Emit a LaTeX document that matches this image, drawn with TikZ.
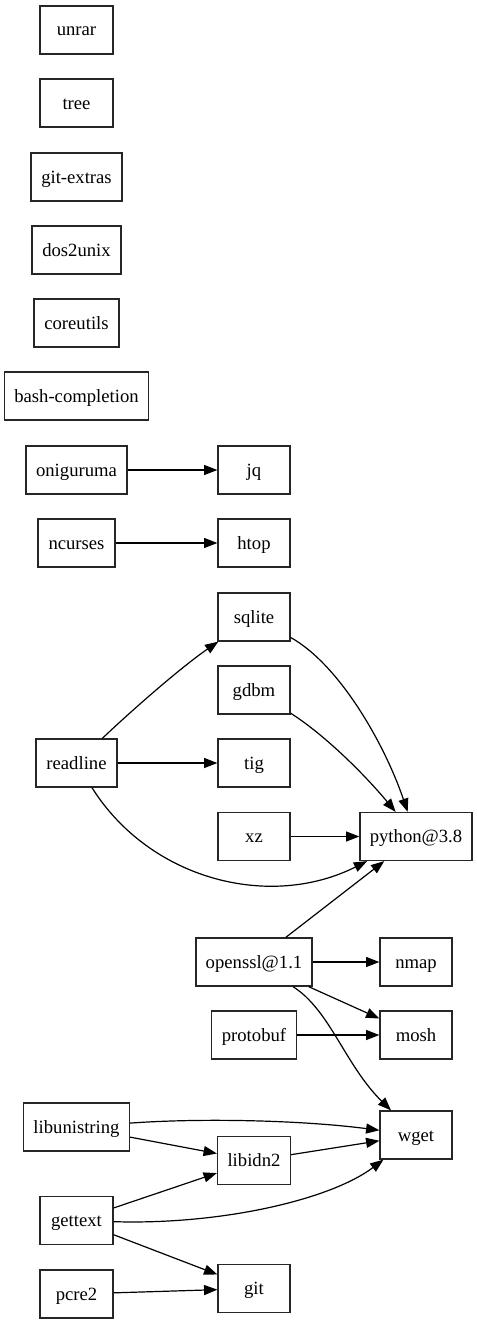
\documentclass[tikz,border=0pt]{standalone}
\usepackage{fontspec}
\setmainfont{Liberation Serif}
\usetikzlibrary{arrows.meta}
\begin{document}
\begin{tikzpicture}[x=0.75pt,y=-0.75pt,
  pkg/.style={draw=black!85,line width=0.9pt,rectangle,minimum height=36pt,inner sep=0pt,text height=12pt,text depth=3pt,font=\fontsize{14}{16}\selectfont},
  dep/.style={draw=black,line width=0.9pt,-{Triangle[length=10pt,width=7.5pt]}}]
\useasboundingbox (0,0) rectangle (477,1324);
\node[pkg,minimum width=54.75pt] (unrar) at (76.5,30) {unrar};
\node[pkg,minimum width=54.75pt] (tree) at (76.5,103) {tree};
\node[pkg,minimum width=68.25pt] (gitextras) at (76.5,177) {git-extras};
\node[pkg,minimum width=66.75pt] (dos2unix) at (76.5,250) {dos2unix};
\node[pkg,minimum width=63.75pt] (coreutils) at (76.5,323) {coreutils};
\node[pkg,minimum width=108pt] (bashcomp) at (76.5,396) {bash-completion};
\node[pkg,minimum width=75.75pt] (oniguruma) at (76.5,470) {oniguruma};
\node[pkg,minimum width=54pt] (jq) at (254,470) {jq};
\node[pkg,minimum width=57.75pt] (ncurses) at (76.5,543) {ncurses};
\node[pkg,minimum width=54pt] (htop) at (254,543) {htop};
\node[pkg,minimum width=54pt] (sqlite) at (254,617) {sqlite};
\node[pkg,minimum width=54pt] (gdbm) at (254,690) {gdbm};
\node[pkg,minimum width=60.75pt] (readline) at (76.5,763) {readline};
\node[pkg,minimum width=54pt] (tig) at (254,763) {tig};
\node[pkg,minimum width=54pt] (xz) at (254,836.5) {xz};
\node[pkg,minimum width=84pt] (python) at (416,836.5) {python@3.8};
\node[pkg,minimum width=87pt] (openssl) at (254,962) {openssl@1.1};
\node[pkg,minimum width=54pt] (nmap) at (416,962) {nmap};
\node[pkg,minimum width=63.75pt] (protobuf) at (254,1035) {protobuf};
\node[pkg,minimum width=54pt] (mosh) at (416,1035) {mosh};
\node[pkg,minimum width=79.5pt] (libunistring) at (76.5,1127) {libunistring};
\node[pkg,minimum width=54.75pt] (libidn2) at (254,1160.5) {libidn2};
\node[pkg,minimum width=54pt] (wget) at (416,1135) {wget};
\node[pkg,minimum width=54.75pt] (gettext) at (76.5,1220.5) {gettext};
\node[pkg,minimum width=54.75pt] (pcre2) at (76.5,1294) {pcre2};
\node[pkg,minimum width=54pt] (git) at (254,1288.5) {git};

\draw[dep] (oniguruma) -- (jq);
\draw[dep] (ncurses) -- (htop);
\draw[dep] (readline) .. controls (130,712) and (180,668) .. (sqlite);
\draw[dep] (readline) -- (tig);
\draw[dep] (readline) .. controls (150,880) and (270,910) .. (python);
\draw[dep] (sqlite) .. controls (340,665) and (385,745) .. (python);
\draw[dep] (gdbm) .. controls (325,735) and (365,775) .. (python);
\draw[dep] (xz) -- (python);
\draw[dep] (openssl) -- (python);
\draw[dep] (openssl) -- (nmap);
\draw[dep] (openssl) -- (mosh);
\draw[dep] (openssl) .. controls (330,1010) and (345,1065) .. (wget);
\draw[dep] (protobuf) -- (mosh);
\draw[dep] (libunistring) .. controls (200,1118) and (300,1120) .. (wget);
\draw[dep] (libunistring) -- (libidn2);
\draw[dep] (libidn2) -- (wget);
\draw[dep] (gettext) -- (libidn2);
\draw[dep] (gettext) .. controls (220,1225) and (330,1200) .. (wget);
\draw[dep] (gettext) -- (git);
\draw[dep] (pcre2) -- (git);
\end{tikzpicture}
\end{document}
